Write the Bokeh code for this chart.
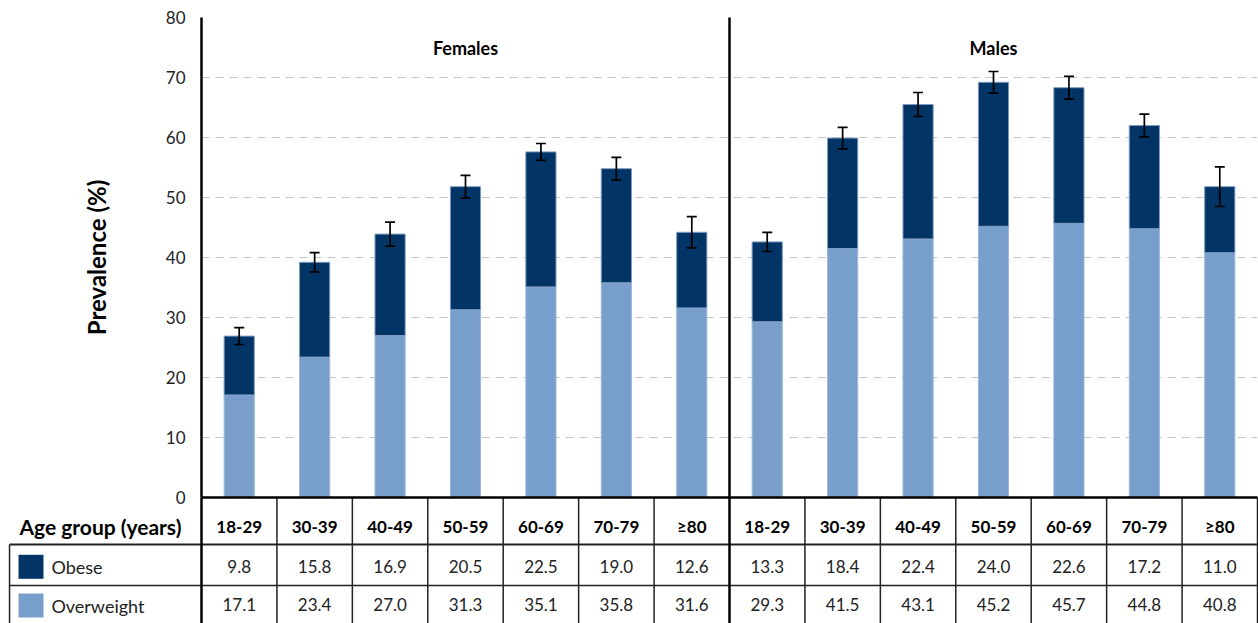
import math
from bokeh.plotting import figure
from bokeh.models import ColumnDataSource, FixedTicker, Whisker, TeeHead, Range1d
from bokeh.core.properties import value
from bokeh.embed import file_html
from bokeh.resources import INLINE

groups = ["18-29", "30-39", "40-49", "50-59", "60-69", "70-79", "≥80"]
obese_f = [9.8, 15.8, 16.9, 20.5, 22.5, 19.0, 12.6]
over_f = [17.1, 23.4, 27.0, 31.3, 35.1, 35.8, 31.6]
obese_m = [13.3, 18.4, 22.4, 24.0, 22.6, 17.2, 11.0]
over_m = [29.3, 41.5, 43.1, 45.2, 45.7, 44.8, 40.8]
err_f = [1.4, 1.6, 2.0, 1.9, 1.4, 1.9, 2.6]
err_m = [1.6, 1.8, 2.0, 1.8, 1.9, 1.9, 3.3]
y_ticks = [0, 10, 20, 30, 40, 50, 60, 70, 80]
panel_titles = ["Females", "Males"]
series_names = ["Obese", "Overweight"]
row_header = "Age group (years)"
y_title = "Prevalence (%)"

DARK = "#023466"
LIGHT = "#789FCB"
FONT = "Lato"

labels = groups + groups
obese = obese_f + obese_m
over = over_f + over_m
err = err_f + err_m
n = len(labels)
xs = [i + 0.5 for i in range(n)]
totals = [o + w for o, w in zip(obese, over)]

src = ColumnDataSource(dict(
    x=xs, over=over, total=totals, zero=[0] * n,
    upper=[t + e for t, e in zip(totals, err)],
    lower=[t - e for t, e in zip(totals, err)],
    lab=labels,
    obese_txt=[f"{v:.1f}" for v in obese],
    over_txt=[f"{v:.1f}" for v in over],
))

Y_HDR, Y_OB, Y_OV = -4.9, -11.5, -17.9
Y_L1, Y_L2, Y_BOT = -7.83, -14.67, -21
X_LEFT = -2.545

p = figure(width=1258, height=623, x_range=Range1d(0, 14), y_range=Range1d(Y_BOT, 80),
           output_backend="svg", toolbar_location=None, x_axis_location=None,
           min_border_left=201, min_border_right=1, min_border_top=17, min_border_bottom=0)
p.outline_line_color = None
p.background_fill_color = "white"
p.xgrid.visible = False
p.ygrid.ticker = FixedTicker(ticks=y_ticks[1:])
p.ygrid.grid_line_color = "#c4c4c4"
p.ygrid.grid_line_dash = "8 6"
p.ygrid.grid_line_width = 1

ax = p.yaxis[0]
ax.ticker = FixedTicker(ticks=y_ticks)
ax.bounds = (0, 80)
ax.axis_line_width = 2.5
ax.axis_line_color = "black"
ax.major_tick_line_color = None
ax.minor_tick_line_color = None
ax.major_label_standoff = 10
ax.major_label_text_font = FONT
ax.major_label_text_font_size = "17px"
ax.major_label_text_color = "#222222"

# y-axis title, centred on the 0-80 span
p.text(x=[-1.39], y=[40], text=[y_title], angle=math.pi / 2, text_font=value(FONT),
       text_font_style="bold", text_font_size="24px", text_align="center",
       text_baseline="middle", text_color="black", level="overlay")

# bars
p.vbar(x="x", bottom="zero", top="over", width=0.4, source=src,
       fill_color=LIGHT, line_color="#9db9da", line_width=1)
p.vbar(x="x", bottom="over", top="total", width=0.4, source=src,
       fill_color=DARK, line_color="#7d9bc2", line_width=1)

p.add_layout(Whisker(source=src, base="x", upper="upper", lower="lower",
                     line_color="black", line_width=1.7, level="overlay",
                     upper_head=TeeHead(size=10, line_width=1.7, line_color="black"),
                     lower_head=TeeHead(size=10, line_width=1.7, line_color="black")))

# panel titles
p.text(x=[3.5, 10.5], y=[75, 75], text=panel_titles, text_font=value(FONT),
       text_font_style="bold", text_font_size="18px", text_align="center",
       text_baseline="middle", text_color="black")

# table lines
thin_x = [i for i in range(1, 14) if i != 7] + [14]
p.segment(x0=thin_x, y0=[Y_BOT] * len(thin_x), x1=thin_x, y1=[0] * len(thin_x),
          line_color="#222222", line_width=1.5, level="overlay")
p.segment(x0=[X_LEFT, X_LEFT, X_LEFT], y0=[Y_L1, Y_L2, Y_BOT], x1=[14, 14, X_LEFT],
          y1=[Y_L1, Y_L2, Y_L1], line_color="#222222", line_width=[2, 1.5, 1.5], level="overlay")
p.segment(x0=[0, 7, 0], y0=[Y_BOT, Y_BOT, 0], x1=[0, 7, 14], y1=[0, 80, 0],
          line_color="black", line_width=2.5, level="overlay")

# table texts
p.text(x="x", y=Y_HDR, text="lab", source=src, text_font=value(FONT),
       text_font_style="bold", text_font_size="17px", text_align="center",
       text_baseline="middle", text_color="black")
p.text(x="x", y=Y_OB, text="obese_txt", source=src, text_font=value(FONT),
       text_font_size="17px", text_align="center", text_baseline="middle", text_color="#222222")
p.text(x="x", y=Y_OV, text="over_txt", source=src, text_font=value(FONT),
       text_font_size="17px", text_align="center", text_baseline="middle", text_color="#222222")

p.text(x=[-1.34], y=[Y_HDR], text=[row_header], text_font=value(FONT),
       text_font_style="bold", text_font_size="21px", text_align="center",
       text_baseline="middle", text_color="black", level="overlay")
# legend swatches (thick butt-capped strokes)
p.segment(x0=[-2.426, -2.426], x1=[-2.095, -2.095], y0=[Y_OB - 0.05, Y_OV - 0.1],
          y1=[Y_OB - 0.05, Y_OV - 0.1], line_width=24, line_cap="butt",
          line_color=[DARK, LIGHT], level="overlay")
p.text(x=[-1.99, -1.99], y=[Y_OB, Y_OV - 0.1], text=series_names, text_font=value(FONT),
       text_font_size="18px", text_align="left", text_baseline="middle",
       text_color="#222222", level="overlay")

open("out.html", "w").write(file_html(p, INLINE))
